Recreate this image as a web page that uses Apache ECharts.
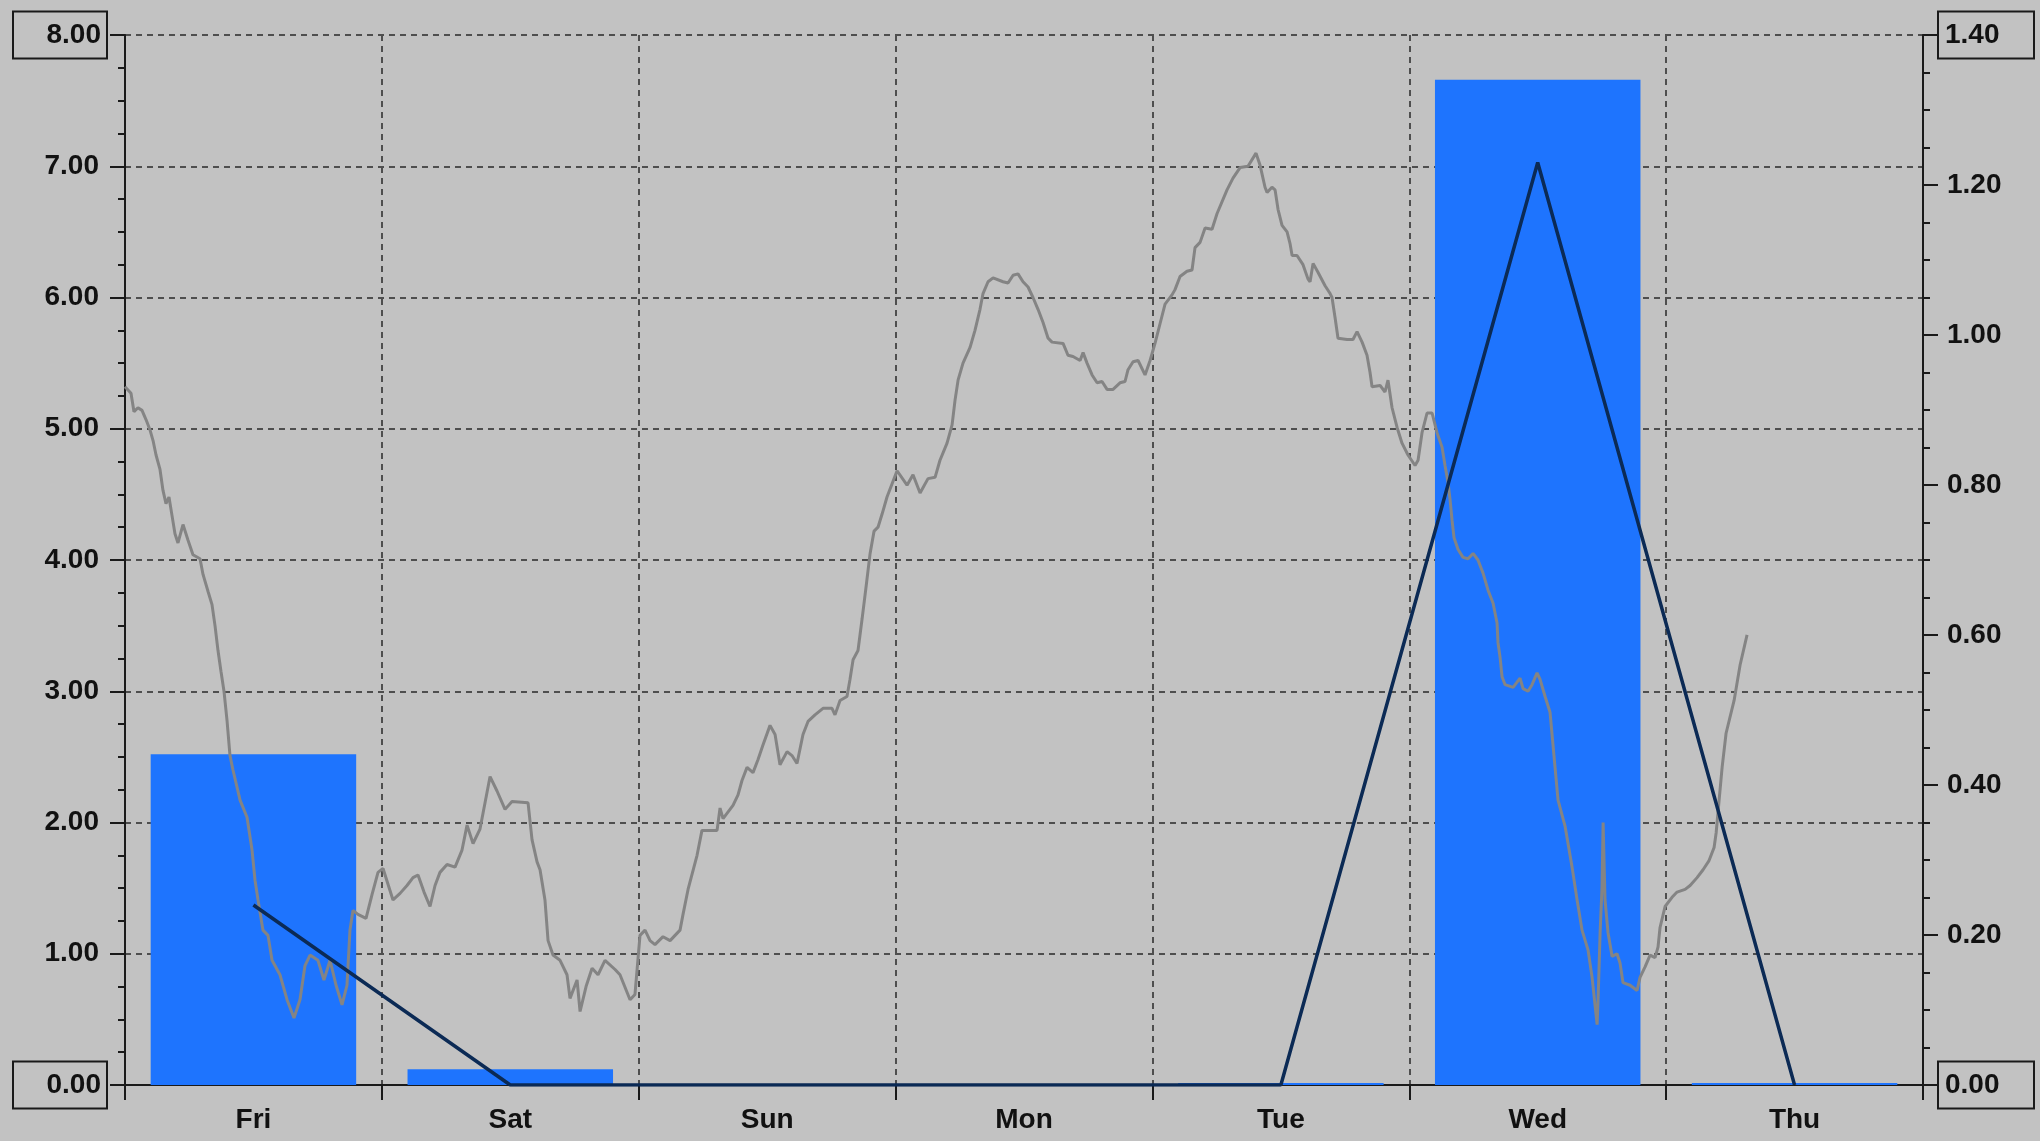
<!DOCTYPE html>
<html>
<head>
<meta charset="utf-8">
<script src="https://cdn.jsdelivr.net/npm/echarts@6/dist/echarts.min.js"></script>
<style>
html,body{margin:0;padding:0;background:#c2c2c2;}
#chart{width:2040px;height:1141px;}
</style>
</head>
<body>
<div id="chart"></div>
<script>
// ---- data ----
const days = ['Fri','Sat','Sun','Mon','Tue','Wed','Thu'];
const barValues = [2.52, 0.12, 0, 0, 0.015, 7.66, 0.015];       // left axis
const navyValues = [0.24, 0, 0, 0, 0, 1.23, 0];                  // right axis
const leftMin = 0, leftMax = 8, leftStep = 1;
const rightMin = 0, rightMax = 1.4, rightStep = 0.2;
const hoursSpan = 168; // 7 days of hours for the gray trace

const grayHours = [0,0.56,0.84,1.21,1.59,1.96,2.34,2.62,2.9,3.27,3.55,3.83,4.11,4.39,4.67,4.95,5.42,5.89,6.35,7.01,
7.29,7.76,8.13,8.41,8.69,8.97,9.25,9.53,9.81,10.09,10.75,11.4,11.87,12.15,12.43,12.89,13.36,13.74,14.48,15.14,
15.79,16.35,16.82,17.29,18.03,18.59,19.16,19.72,20.28,20.74,21.02,21.3,21.77,22.52,23.08,23.64,24.11,25.04,25.7,26.35,
26.91,27.38,27.94,28.5,28.97,29.43,30.09,30.84,31.49,31.96,32.52,33.17,34.11,34.76,35.51,36.16,37.66,38.03,38.5,38.78,
39.24,39.53,39.99,40.65,41.3,41.58,42.24,42.52,43.08,43.64,44.2,44.85,45.79,46.25,47.19,47.65,48.12,48.59,49.06,49.52,
50.27,50.93,51.86,52.14,52.61,53.45,53.91,54.66,55.32,55.6,55.88,56.81,57.28,57.65,58.12,58.68,59.15,59.61,60.27,60.74,
61.2,61.86,62.32,62.79,63.35,63.82,64.47,65.22,66.06,66.34,66.81,67.46,67.74,68.03,68.49,68.87,69.25,69.62,69.99,70.36,
70.74,71.2,72.14,73.07,73.63,74.29,75.03,75.69,76.15,76.81,77.28,77.56,77.84,78.3,78.96,79.42,79.89,80.17,80.64,81.11,
82.04,82.51,82.98,83.44,83.91,84.38,84.84,85.31,85.78,86.25,86.62,87.65,88.11,88.58,89.24,89.52,89.89,90.36,90.83,91.29,
91.76,92.32,92.97,93.44,93.72,94.19,94.66,95.31,95.78,96.24,96.71,97.18,97.83,98.11,98.58,99.23,99.7,99.98,100.45,100.92,
101.57,102.04,102.97,103.53,104.19,104.93,105.68,106.05,106.52,106.71,107.17,107.46,107.74,108.11,108.58,108.86,109.05,109.51,110.07,110.54,
110.73,111.01,111.48,112.13,112.6,112.78,113.06,113.34,114.18,114.74,115.12,115.59,116.05,116.33,116.52,117.27,117.73,118.01,118.39,118.86,
119.32,119.88,120.54,120.82,121.19,121.66,122.13,122.59,123.06,123.34,123.62,123.81,124,124.18,124.56,125.02,125.49,125.96,126.42,126.89,
127.36,127.83,128.2,128.29,128.48,128.67,128.95,129.7,130.35,130.63,131.1,131.47,131.94,132.22,132.69,133.15,133.53,133.9,134.56,135.21,
135.68,136.14,136.7,137.08,137.55,137.64,137.83,138.01,138.11,138.29,138.57,138.95,139.41,139.69,139.97,140.63,141.28,141.56,142.03,142.5,
142.96,143.24,143.43,143.9,144.55,145.02,145.77,146.24,146.89,147.45,148.01,148.48,148.67,148.95,149.23,149.6,150.35,150.91,151.56];

const grayValues = [5.32,5.27,5.13,5.16,5.14,5.07,4.99,4.91,4.8,4.69,4.53,4.43,4.48,4.34,4.2,4.13,4.27,4.15,4.04,4.01,
3.89,3.76,3.66,3.5,3.31,3.15,3.0,2.78,2.51,2.4,2.17,2.04,1.79,1.56,1.41,1.18,1.14,0.95,0.84,0.65,
0.51,0.65,0.91,0.99,0.95,0.8,0.95,0.76,0.61,0.76,1.18,1.33,1.3,1.27,1.45,1.62,1.65,1.41,1.46,1.52,
1.58,1.6,1.47,1.36,1.52,1.62,1.68,1.66,1.79,1.98,1.84,1.95,2.35,2.24,2.1,2.16,2.15,1.87,1.7,1.64,
1.41,1.1,0.99,0.95,0.84,0.66,0.8,0.56,0.75,0.89,0.84,0.95,0.88,0.84,0.65,0.69,1.14,1.18,1.1,1.07,
1.13,1.1,1.18,1.3,1.49,1.75,1.94,1.94,1.94,2.11,2.03,2.13,2.21,2.32,2.42,2.38,2.48,2.59,2.74,2.67,
2.44,2.54,2.51,2.45,2.67,2.77,2.82,2.87,2.87,2.82,2.93,2.96,3.09,3.24,3.31,3.55,3.8,4.05,4.22,4.25,
4.35,4.48,4.68,4.57,4.65,4.51,4.62,4.63,4.76,4.89,5.03,5.22,5.37,5.5,5.62,5.75,5.91,6.03,6.12,6.15,
6.12,6.11,6.17,6.18,6.12,6.08,6.0,5.91,5.81,5.69,5.66,5.65,5.56,5.55,5.52,5.58,5.5,5.41,5.35,5.36,
5.3,5.3,5.35,5.36,5.45,5.51,5.52,5.41,5.52,5.65,5.8,5.95,6.02,6.06,6.16,6.2,6.21,6.38,6.42,6.53,
6.52,6.64,6.82,6.91,6.99,7.0,7.1,7.01,6.84,6.8,6.84,6.82,6.67,6.55,6.5,6.41,6.32,6.32,6.25,6.14,
6.12,6.26,6.19,6.09,6.03,6.0,5.85,5.69,5.68,5.68,5.74,5.66,5.56,5.43,5.32,5.33,5.28,5.37,5.16,5.01,
4.89,4.8,4.72,4.76,4.97,5.12,5.12,4.97,4.86,4.72,4.59,4.46,4.3,4.17,4.08,4.02,4.01,4.05,4.0,3.9,
3.77,3.67,3.52,3.37,3.26,3.11,3.05,3.03,3.1,3.02,3.0,3.05,3.14,3.09,2.96,2.84,2.5,2.17,1.97,1.66,
1.41,1.18,1.03,0.82,0.46,0.65,1.16,1.51,2.0,1.41,1.16,0.98,1.0,0.93,0.78,0.76,0.72,0.82,0.9,0.99,
0.97,1.05,1.2,1.36,1.43,1.47,1.49,1.52,1.58,1.64,1.71,1.81,1.92,2.17,2.42,2.68,2.93,3.2,3.43];

// ---- chart ----
const FONT = '"Liberation Sans", Arial, sans-serif';
const AXIS_COLOR = '#1a1a1a';
const GRID_COLOR = '#4e4e4e';
const labelBase = {fontFamily: FONT, fontSize: 28, fontWeight: 'bold', color: '#111'};

function leftLabel(v){
  const s = v.toFixed(2);
  return (Math.abs(v-leftMin)<1e-9 || Math.abs(v-leftMax)<1e-9) ? '{box|'+s+'}' : '{plain|'+s+'}';
}
function rightLabel(v){
  const s = v.toFixed(2);
  return (Math.abs(v-rightMin)<1e-9 || Math.abs(v-rightMax)<1e-9) ? '{box|'+s+'}' : '{plain|'+s+'}';
}

const chart = echarts.init(document.getElementById('chart'), null, {renderer:'canvas'});
chart.setOption({
  backgroundColor: '#c2c2c2',
  animation: false,
  grid: {left: 125, right: 117, top: 35, bottom: 56, containLabel: false},
  xAxis: [{
    type: 'category',
    data: days,
    boundaryGap: true,
    axisLine: {lineStyle: {color: AXIS_COLOR, width: 2}},
    axisTick: {show: true, length: 15, lineStyle: {color: AXIS_COLOR, width: 2}},
    axisLabel: Object.assign({margin: 21, interval: 0}, labelBase),
    splitLine: {show: true, interval: 0, lineStyle: {color: GRID_COLOR, width: 2, type: [6,5]}}
  },{
    type: 'value', min: 0, max: hoursSpan, show: false,
    splitLine: {show: false}
  }],
  yAxis: [{
    type: 'value', min: leftMin, max: leftMax, interval: leftStep, position: 'left',
    axisLine: {show: true, lineStyle: {color: AXIS_COLOR, width: 2}},
    axisTick: {show: true, length: 15, lineStyle: {color: AXIS_COLOR, width: 2}},
    minorTick: {show: true, splitNumber: 4, length: 7, lineStyle: {color: AXIS_COLOR, width: 2}},
    axisLabel: {
      margin: 18, formatter: leftLabel,
      rich: {
        box: Object.assign({borderColor: AXIS_COLOR, borderWidth: 2, width: 82, height: 31, padding: [8,6,8,6], align: 'right'}, labelBase),
        plain: Object.assign({padding: [0,8,0,0], align: 'right'}, labelBase)
      }
    },
    splitLine: {show: true, lineStyle: {color: GRID_COLOR, width: 2, type: [6,5]}}
  },{
    type: 'value', min: rightMin, max: rightMax, interval: rightStep, position: 'right',
    axisLine: {show: true, lineStyle: {color: AXIS_COLOR, width: 2}},
    axisTick: {show: true, length: 15, lineStyle: {color: AXIS_COLOR, width: 2}},
    minorTick: {show: true, splitNumber: 4, length: 7, lineStyle: {color: AXIS_COLOR, width: 2}},
    axisLabel: {
      margin: 15, formatter: rightLabel,
      rich: {
        box: Object.assign({borderColor: AXIS_COLOR, borderWidth: 2, width: 82, height: 31, padding: [8,7,8,7], align: 'left'}, labelBase),
        plain: Object.assign({padding: [0,0,0,9], align: 'left'}, labelBase)
      }
    },
    splitLine: {show: false}
  }],
  series: [{
    name: 'bars', type: 'bar', xAxisIndex: 0, yAxisIndex: 0,
    data: barValues, barCategoryGap: '20%',
    itemStyle: {color: '#1e74fe'}, z: 2
  },{
    name: 'trace', type: 'line', xAxisIndex: 1, yAxisIndex: 0,
    data: grayHours.map((h,i) => [h, grayValues[i]]),
    showSymbol: false, symbol: 'none',
    lineStyle: {color: '#848484', width: 3}, z: 3
  },{
    name: 'daily', type: 'line', xAxisIndex: 0, yAxisIndex: 1,
    data: navyValues, showSymbol: false, symbol: 'none',
    lineStyle: {color: '#0b2a55', width: 3.5}, z: 4
  }]
});
</script>
</body>
</html>
